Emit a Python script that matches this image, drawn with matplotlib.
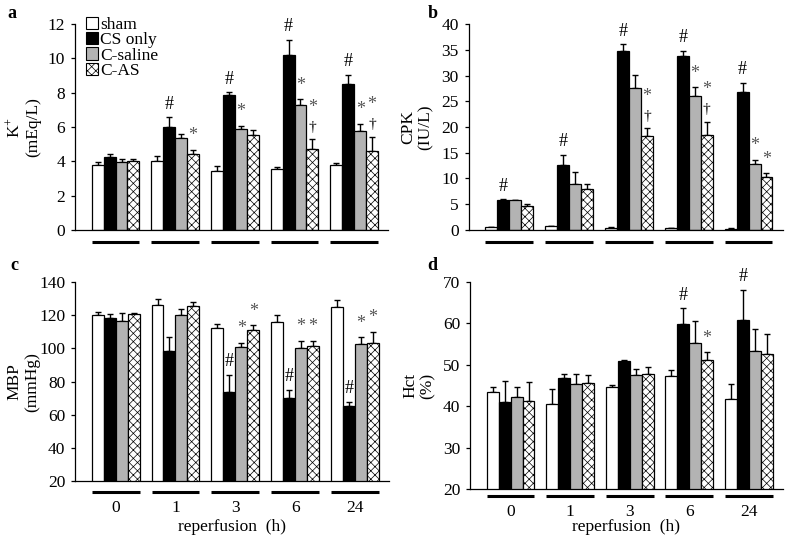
import matplotlib
matplotlib.use("Agg")
import matplotlib.pyplot as plt
import matplotlib.transforms as mtransforms
from matplotlib.patches import Patch
import numpy as np

plt.rcParams['font.family'] = ['Liberation Serif', 'DejaVu Serif']
plt.rcParams['mathtext.fontset'] = 'custom'
plt.rcParams['mathtext.rm'] = 'Liberation Serif'
plt.rcParams['mathtext.default'] = 'regular'
plt.rcParams['hatch.linewidth'] = 0.5

groups = ["0", "1", "3", "6", "24"]
series = ["sham", "CS only", "C-saline", "C-AS"]
colors = ["white", "black", "#b3b3b3", "white"]
hatches = [None, None, None, "xxxx"]

# K+ (mEq/L)
k_mean = [[3.77, 4.00, 3.45, 3.57, 3.77],
          [4.23, 6.03, 7.84, 10.20, 8.50],
          [3.94, 5.35, 5.88, 7.28, 5.76],
          [4.02, 4.45, 5.52, 4.74, 4.62]]
k_sem = [[0.17, 0.30, 0.25, 0.11, 0.11],
         [0.20, 0.53, 0.20, 0.90, 0.55],
         [0.20, 0.25, 0.20, 0.33, 0.44],
         [0.10, 0.23, 0.28, 0.56, 0.80]]
k_marks = {(1, 1): "#", (1, 3): "*", (2, 1): "#", (2, 2): "*",
           (3, 1): "#", (3, 2): "*", (3, 3): "†*", (4, 1): "#", (4, 2): "*", (4, 3): "†*"}

# CPK (IU/L)
cpk_mean = [[0.60, 0.80, 0.35, 0.30, 0.15],
            [5.85, 12.6, 34.7, 33.9, 26.9],
            [5.75, 8.95, 27.5, 26.1, 12.8],
            [4.70, 8.00, 18.2, 18.45, 10.25]]
cpk_sem = [[0.05, 0.05, 0.15, 0.05, 0.15],
           [0.15, 2.00, 1.40, 0.95, 1.70],
           [0.15, 2.40, 2.70, 1.60, 0.85],
           [0.40, 0.95, 1.60, 2.60, 0.75]]
cpk_marks = {(0, 1): "#", (1, 1): "#", (2, 1): "#", (2, 3): "†*",
             (3, 1): "#", (3, 2): "*", (3, 3): "†*", (4, 1): "#", (4, 2): "*", (4, 3): "*"}

# MBP (mmHg)
mbp_mean = [[120.3, 126.1, 112.2, 115.9, 125.3],
            [118.3, 98.3, 73.6, 70.0, 65.3],
            [116.5, 120.3, 101.0, 100.2, 102.6],
            [120.9, 125.5, 111.0, 101.4, 103.4]]
mbp_sem = [[1.5, 3.8, 2.4, 4.4, 4.0],
           [2.6, 8.3, 10.4, 5.2, 2.5],
           [4.6, 3.4, 2.4, 4.4, 4.0],
           [0.6, 2.4, 3.0, 3.2, 6.8]]
mbp_marks = {(2, 1): "#", (2, 2): "*", (2, 3): "*", (3, 1): "#", (3, 2): "*", (3, 3): "*",
             (4, 1): "#", (4, 2): "*", (4, 3): "*"}

# Hct (%)
hct_mean = [[43.4, 40.5, 44.6, 47.3, 41.8],
            [41.0, 46.8, 50.9, 59.8, 60.8],
            [42.2, 45.4, 47.5, 55.4, 53.3],
            [41.3, 45.6, 47.8, 51.1, 52.6]]
hct_sem = [[1.3, 3.7, 0.5, 1.5, 3.5],
           [5.0, 1.0, 0.2, 3.9, 7.4],
           [2.5, 2.4, 1.5, 5.3, 5.4],
           [4.5, 2.0, 1.8, 2.0, 4.8]]
hct_marks = {(3, 1): "#", (3, 3): "*", (4, 1): "#"}


def draw_panel(ax, means, sems, marks, ylim, yticks, ylabel, line_y, bottom_row, tick_pad):
    x = np.arange(len(groups))
    w = 0.2
    for i in range(4):
        xs = x + (i - 1.5) * w
        ax.bar(xs, means[i], width=w, color=colors[i], edgecolor="black",
               linewidth=0.9, hatch=hatches[i], zorder=2)
        ax.errorbar(xs, means[i], yerr=[np.zeros(len(groups)), sems[i]], fmt="none",
                    ecolor="black", elinewidth=1.0, capsize=2.3, capthick=1.0, zorder=1)

    # significance marks
    for (g, i), sym in marks.items():
        top = means[i][g] + sems[i][g]
        xs = g + (i - 1.5) * w
        stacked = False
        for s in sym:
            if s == "#":
                ax.annotate(s, (xs, top), xytext=(0, 13), textcoords="offset pixels",
                            ha="center", va="center", fontsize=13, annotation_clip=False)
            elif s == "*":
                ax.annotate(s, (xs, top), xytext=(0, 32 if stacked else 14),
                            textcoords="offset pixels", ha="center", va="center",
                            fontsize=13, color="#555555", annotation_clip=False)
            else:
                ax.annotate(s, (xs, top), xytext=(0, 12), textcoords="offset pixels",
                            ha="center", va="center", fontsize=11, annotation_clip=False)
                stacked = True

    ax.set_xlim(-0.68, 4.57)
    ax.set_ylim(*ylim)
    ax.set_yticks(yticks)
    ax.spines["top"].set_visible(False)
    ax.spines["right"].set_visible(False)
    ax.spines["left"].set_linewidth(0.9)
    ax.spines["bottom"].set_linewidth(0.9)
    ax.tick_params(axis="y", direction="out", length=3, width=0.9, labelsize=12.5, pad=4)
    ax.tick_params(axis="x", length=0, labelsize=12.5, pad=tick_pad)
    ax.set_xticks(x)
    if bottom_row:
        ax.set_xticklabels(groups)
        # x label sits at the same figure height under both bottom panels
        ax.text(0.5, 1 - 527 / 536, "reperfusion  (h)", fontsize=12.5, ha="center", va="center",
                transform=mtransforms.blended_transform_factory(ax.transAxes, ax.figure.transFigure))
    else:
        ax.set_xticklabels([])

    trans = mtransforms.blended_transform_factory(ax.transData, ax.transAxes)
    for g in x:
        ax.plot([g - 0.4, g + 0.4], [line_y, line_y], color="black", lw=2.2,
                transform=trans, clip_on=False, solid_capstyle="butt")

    ax.text(-0.165, 0.5, ylabel, transform=ax.transAxes, rotation=90, ha="center",
            va="center", fontsize=12.5, linespacing=1.1)


fig = plt.figure(figsize=(7.85, 5.36), dpi=100)
ax_a = fig.add_axes([0.0955, 0.571, 0.399, 0.384])
ax_b = fig.add_axes([0.597, 0.571, 0.400, 0.384])
ax_c = fig.add_axes([0.0955, 0.1026, 0.400, 0.371])
ax_d = fig.add_axes([0.599, 0.0877, 0.398, 0.386])

draw_panel(ax_a, k_mean, k_sem, k_marks, (0, 12), range(0, 13, 2),
           "K$^{+}$\n(mEq/L)", -0.058, False, 4)
draw_panel(ax_b, cpk_mean, cpk_sem, cpk_marks, (0, 40), range(0, 41, 5),
           "CPK\n(IU/L)", -0.058, False, 4)
draw_panel(ax_c, mbp_mean, mbp_sem, mbp_marks, (20, 140), range(20, 141, 20),
           "MBP\n(mmHg)", -0.055, True, 14)
draw_panel(ax_d, hct_mean, hct_sem, hct_marks, (20, 70), range(20, 71, 10),
           "Hct\n(%)", -0.034, True, 11)

handles = [Patch(facecolor=colors[i], edgecolor="black", linewidth=0.8, hatch=hatches[i])
           for i in range(4)]
ax_a.legend(handles, series, loc="upper left", bbox_to_anchor=(0.035, 1.035), frameon=False,
            fontsize=12.5, handlelength=0.7, handleheight=0.7, handletextpad=0.1,
            labelspacing=-0.05, borderpad=0, borderaxespad=0)

for lab, xp, yp in [("a", 7, 13), ("b", 428, 13), ("c", 10, 265), ("d", 427, 265)]:
    fig.text(xp / 785, 1 - yp / 536, lab, fontsize=13, fontweight="bold", va="center", ha="left")

fig.savefig("out.png", dpi=100)
